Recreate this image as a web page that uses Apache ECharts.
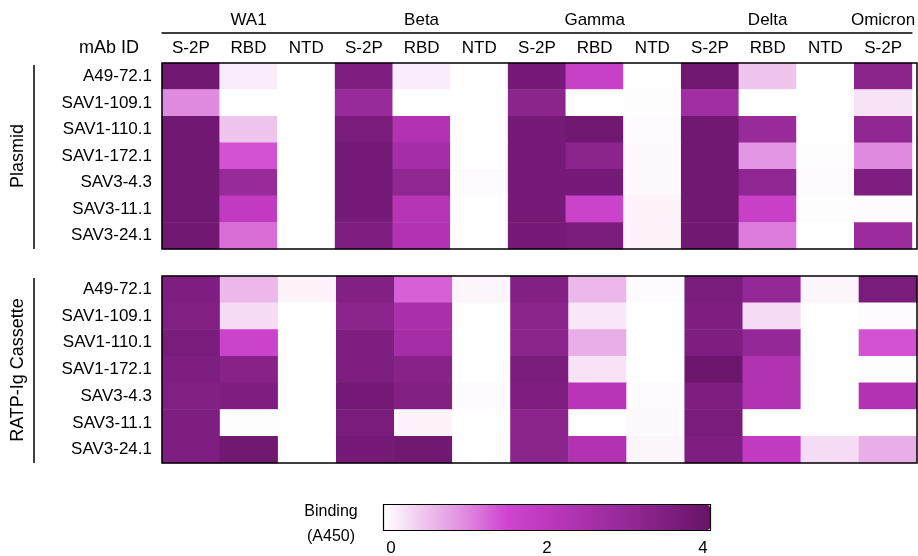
<!DOCTYPE html>
<html>
<head>
<meta charset="utf-8">
<script src="https://cdn.jsdelivr.net/npm/echarts@6/dist/echarts.min.js"></script>
<style>html,body{margin:0;padding:0;background:#fff;}#c{width:918px;height:556px;}</style>
</head>
<body>
<div id="c"></div>
<script>
const columns = ['S-2P','RBD','NTD','S-2P','RBD','NTD','S-2P','RBD','NTD','S-2P','RBD','NTD','S-2P'];
const variants = ['', 'WA1', '', '', 'Beta', '', '', 'Gamma', '', '', 'Delta', '', 'Omicron'];
const mAbs = ['A49-72.1','SAV1-109.1','SAV1-110.1','SAV1-172.1','SAV3-4.3','SAV3-11.1','SAV3-24.1'];
const colorbarTicks = [0, 2, 4];

// Binding (A450), rows = mAbs, columns = columns above
const plasmid = [
  [3.8, 0.15, 0, 3.5, 0.15, 0, 3.7, 1.7, 0, 3.8, 0.5, 0, 3.2],
  [1.0, 0, 0, 2.9, 0, 0, 3.2, 0, 0.02, 2.7, 0, 0, 0.25],
  [3.8, 0.5, 0, 3.6, 2.3, 0, 3.7, 3.8, 0.03, 3.8, 2.9, 0, 3.1],
  [3.8, 1.4, 0, 3.7, 2.6, 0, 3.7, 3.2, 0.05, 3.8, 0.9, 0.02, 1.0],
  [3.8, 2.9, 0, 3.7, 3.1, 0.03, 3.7, 3.7, 0.05, 3.8, 3.1, 0.03, 3.5],
  [3.8, 1.9, 0, 3.7, 2.2, 0, 3.7, 1.6, 0.1, 3.8, 1.7, 0.02, 0.03],
  [3.8, 1.2, 0, 3.5, 2.3, 0, 3.7, 3.6, 0.1, 3.8, 1.1, 0, 2.8]
];
const ratpCassette = [
  [3.5, 0.6, 0.1, 3.4, 1.3, 0.08, 3.4, 0.6, 0.03, 3.6, 3.0, 0.08, 3.6],
  [3.4, 0.3, 0, 3.2, 2.5, 0, 3.2, 0.2, 0, 3.5, 0.3, 0, 0.03],
  [3.6, 1.6, 0.01, 3.5, 2.6, 0, 3.2, 0.7, 0, 3.5, 3.0, 0, 1.4],
  [3.5, 3.3, 0, 3.5, 3.3, 0, 3.6, 0.25, 0, 3.9, 2.3, 0.01, 0.02],
  [3.4, 3.5, 0, 3.7, 3.4, 0.03, 3.5, 2.1, 0.03, 3.5, 2.3, 0, 2.3],
  [3.5, 0.02, 0.01, 3.6, 0.1, 0, 3.2, 0, 0.05, 3.6, 0, 0, 0],
  [3.5, 3.8, 0, 3.7, 3.8, 0.01, 3.2, 2.3, 0.08, 3.5, 1.9, 0.3, 0.7]
];

function toCells(m) {
  const out = [];
  m.forEach((row, r) => row.forEach((v, c) => out.push([c, r, v])));
  return out;
}

const FONT = "'Liberation Sans', Arial, sans-serif";
const txt = { color: '#000', fontFamily: FONT };

const chart = echarts.init(document.getElementById('c'), null, { renderer: 'canvas' });

const G0 = { left: 162, top: 63, width: 755, height: 186 };
const G1 = { left: 162, top: 276, width: 755, height: 187 };

function catY(idx) {
  return {
    type: 'category', gridIndex: idx, data: mAbs, inverse: true,
    axisLine: { show: false }, axisTick: { show: false },
    axisLabel: Object.assign({ fontSize: 17, margin: 10 }, txt),
    splitLine: { show: false }
  };
}

chart.setOption({
  animation: false,
  backgroundColor: '#fff',
  grid: [
    Object.assign({ containLabel: false }, G0),
    Object.assign({ containLabel: false }, G1),
    { left: 391, width: 312, top: 530, height: 1, containLabel: false }
  ],
  xAxis: [
    {
      type: 'category', gridIndex: 0, data: columns, position: 'top',
      axisLine: { show: false }, axisTick: { show: false },
      axisLabel: Object.assign({ fontSize: 17, margin: 6, interval: 0 }, txt),
      splitLine: { show: false }
    },
    {
      type: 'category', gridIndex: 0, data: variants, position: 'top', offset: 30,
      axisLine: { show: true, lineStyle: { color: '#000', width: 1.5 } },
      axisTick: { show: false },
      axisLabel: Object.assign({ fontSize: 17, margin: 4, interval: 0 }, txt),
      splitLine: { show: false }
    },
    {
      type: 'category', gridIndex: 1, data: columns,
      axisLine: { show: false }, axisTick: { show: false },
      axisLabel: { show: false }, splitLine: { show: false }
    },
    {
      type: 'value', gridIndex: 2, min: 0, max: 4, interval: 2,
      data: colorbarTicks,
      axisLine: { show: false }, axisTick: { show: false },
      axisLabel: Object.assign({ fontSize: 17, margin: 10 }, txt),
      splitLine: { show: false }
    }
  ],
  yAxis: [
    catY(0),
    catY(1),
    { type: 'value', gridIndex: 2, show: false }
  ],
  visualMap: {
    type: 'continuous',
    min: 0, max: 4,
    seriesIndex: [0, 1],
    orient: 'horizontal',
    left: 384, top: 505,
    itemWidth: 25, itemHeight: 326,
    padding: 0,
    calculable: false,
    hoverLink: false,
    text: null,
    showLabel: false,
    inRange: {
      color: ['#ffffff', '#efc4ed', '#e08ae0', '#cf44cf', '#bd38bd', '#a930aa', '#942896', '#7e1e80', '#681468']
    }
  },
  series: [
    {
      type: 'heatmap', xAxisIndex: 0, yAxisIndex: 0,
      data: toCells(plasmid),
      itemStyle: { borderWidth: 0 },
      emphasis: { disabled: true }, silent: true
    },
    {
      type: 'heatmap', xAxisIndex: 2, yAxisIndex: 1,
      data: toCells(ratpCassette),
      itemStyle: { borderWidth: 0 },
      emphasis: { disabled: true }, silent: true
    },
    {
      type: 'scatter', xAxisIndex: 3, yAxisIndex: 2, data: [], silent: true
    }
  ],
  graphic: [
    { type: 'rect', z: 100, shape: { x: G0.left, y: G0.top, width: G0.width, height: G0.height },
      style: { fill: null, stroke: '#000', lineWidth: 1.5 } },
    { type: 'rect', z: 100, shape: { x: G1.left, y: G1.top, width: G1.width, height: G1.height },
      style: { fill: null, stroke: '#000', lineWidth: 1.5 } },
    { type: 'rect', z: 100, shape: { x: 383.5, y: 504.5, width: 327, height: 26 },
      style: { fill: null, stroke: '#000', lineWidth: 1.2 } },
    { type: 'text', x: 109, y: 48,
      style: { text: 'mAb ID', font: '18px ' + FONT, fill: '#000', align: 'center', verticalAlign: 'middle' } },
    { type: 'line', shape: { x1: 34, y1: 65, x2: 34, y2: 249 }, style: { stroke: '#000', lineWidth: 1.5 } },
    { type: 'line', shape: { x1: 34, y1: 278, x2: 34, y2: 463 }, style: { stroke: '#000', lineWidth: 1.5 } },
    { type: 'text', x: 18, y: 156, rotation: Math.PI / 2,
      style: { text: 'Plasmid', font: '18px ' + FONT, fill: '#000', align: 'center', verticalAlign: 'middle' } },
    { type: 'text', x: 18, y: 370, rotation: Math.PI / 2,
      style: { text: 'RATP-Ig Cassette', font: '18px ' + FONT, fill: '#000', align: 'center', verticalAlign: 'middle' } },
    { type: 'text', x: 331, y: 512,
      style: { text: 'Binding', font: '16px ' + FONT, fill: '#000', align: 'center', verticalAlign: 'middle' } },
    { type: 'text', x: 331, y: 537,
      style: { text: '(A450)', font: '16px ' + FONT, fill: '#000', align: 'center', verticalAlign: 'middle' } }
  ]
});
</script>
</body>
</html>
